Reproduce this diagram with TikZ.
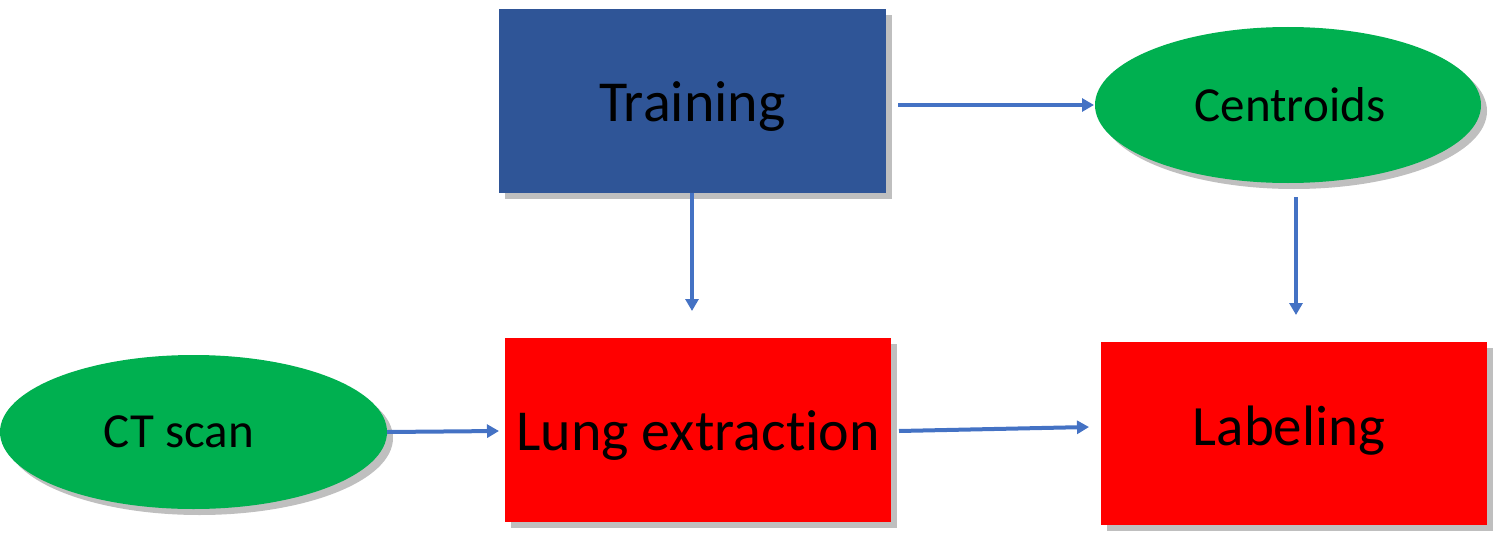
\documentclass[tikz,border=0pt]{standalone}
\usepackage{fontspec}
\setmainfont{Carlito}[Ligatures=NoCommon]
\usetikzlibrary{shapes.geometric,arrows.meta,shadows}
\definecolor{boxblue}{HTML}{2F5597}
\definecolor{okgreen}{HTML}{00B050}
\definecolor{arrblue}{HTML}{4472C4}
\tikzset{
  shadowed/.style={drop shadow={shadow xshift=6pt,shadow yshift=-6pt,opacity=0.25,fill=black}},
  rbox/.style={rectangle,inner sep=0pt,shadowed},
  oval/.style={ellipse,inner sep=0pt,fill=okgreen,shadowed},
  conn/.style={draw=arrblue,line width=4pt,-{Triangle[length=12pt,width=13pt]}},
}
% #1 font size, #2 baseline offset below centre, #3 text
\newcommand{\txt}[3]{\raisebox{-#2pt}[0pt][0pt]{\fontsize{#1}{#1}\selectfont #3}}
\begin{document}
\begin{tikzpicture}[x=1pt,y=-1pt]
\useasboundingbox (0,0) rectangle (1512,551);
\node[rbox,fill=boxblue,minimum width=387pt,minimum height=184pt] (train) at (692.5,101) {\txt{58}{20}{Training}};
\node[oval,minimum width=386pt,minimum height=156pt] (cent) at (1288,105) {\txt{49}{17}{Centroids}\hspace*{-4pt}};
\node[rbox,fill=red,minimum width=386pt,minimum height=184pt] (lung) at (698,430) {\txt{58}{20}{Lung extraction}};
\node[rbox,fill=red,minimum width=386pt,minimum height=183pt] (lab) at (1294,433.5) {\txt{57}{11.5}{Labeling}\hspace*{10pt}};
\node[oval,minimum width=387pt,minimum height=154pt] (ct) at (193.5,432) {\txt{49}{15}{CT scan}\hspace*{29pt}};
\coordinate (a1s) at (898,105);
\coordinate (a1e) at (1094,105);
\coordinate (a2s) at (692,193);
\coordinate (a2e) at (692,311);
\coordinate (a3s) at (1296,197);
\coordinate (a3e) at (1296,315);
\coordinate (a4e) at (499,431);
\coordinate (a5s) at (899,431);
\coordinate (a5e) at (1089,427);
\draw[conn] (a1s) -- (a1e);
\draw[conn] (a2s) -- (a2e);
\draw[conn] (a3s) -- (a3e);
\draw[conn] (ct.east) -- (a4e);
\draw[conn] (a5s) -- (a5e);
\end{tikzpicture}
\end{document}
